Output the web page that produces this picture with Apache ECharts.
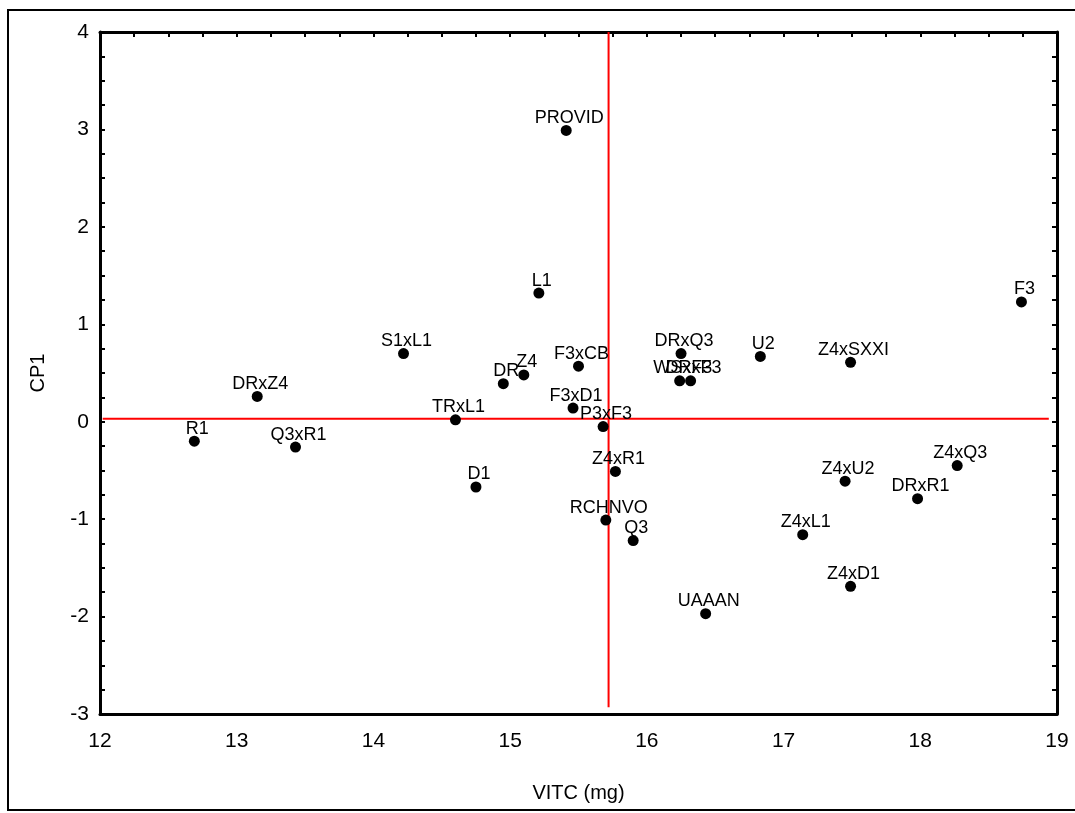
<!DOCTYPE html>
<html>
<head>
<meta charset="utf-8">
<script src="https://cdn.jsdelivr.net/npm/echarts@6/dist/echarts.min.js"></script>
<style>
html,body{margin:0;padding:0;background:#fff;}
#chart{width:1075px;height:813px;}
</style>
</head>
<body>
<div id="chart"></div>
<script>
// Data
var names = ['PROVID','L1','F3','S1xL1','DRxZ4','R1','Q3xR1','TRxL1','DR','Z4','F3xCB','F3xD1','P3xF3','DRxQ3','WSxF3','DRxF3','U2','Z4xSXXI','Z4xQ3','Z4xU2','DRxR1','Z4xL1','Z4xD1','UAAAN','Q3','RCHNVO','Z4xR1','D1'];
var vitc  = [15.41,15.21,18.74,14.22,13.15,12.69,13.43,14.60,14.95,15.10,15.50,15.46,15.68,16.25,16.24,16.32,16.83,17.49,18.27,17.45,17.98,17.14,17.49,16.43,15.90,15.70,15.77,14.75];
var cp1   = [2.99,1.32,1.23,0.70,0.26,-0.20,-0.26,0.02,0.39,0.48,0.57,0.14,-0.05,0.70,0.42,0.42,0.67,0.61,-0.45,-0.61,-0.79,-1.16,-1.69,-1.97,-1.22,-1.01,-0.51,-0.67];
var refVertical   = [[15.72,-2.93],[15.72,4]];
var refHorizontal = [[12.02,0.03],[18.94,0.03]];
var xTicks = [12,13,14,15,16,17,18,19];
var yTicks = [-3,-2,-1,0,1,2,3,4];

var FONT = 'Liberation Sans, Arial, sans-serif';
var points = names.map(function(n,i){ return {name:n, value:[vitc[i], cp1[i]]}; });

var lineAxis = {onZero:false, lineStyle:{color:'#000', width:3}};
var tickStyle = {color:'#000', width:2};
var chart = echarts.init(document.getElementById('chart'));
chart.setOption({
  animation:false,
  backgroundColor:'#fff',
  grid:{left:100, right:18, top:32, bottom:99},
  graphic:[{type:'rect', shape:{x:8,y:10,width:1085,height:800}, style:{fill:'none', stroke:'#000', lineWidth:2}, silent:true}],
  xAxis:[
    {type:'value', position:'bottom', min:xTicks[0], max:xTicks[xTicks.length-1], interval:1,
     axisLine:lineAxis, axisTick:{show:false}, minorTick:{show:false}, splitLine:{show:false},
     axisLabel:{fontSize:21, color:'#000', margin:17, fontFamily:FONT},
     name:'VITC (mg)', nameLocation:'middle', nameGap:69, nameTextStyle:{fontSize:20, color:'#000', fontFamily:FONT}},
    {type:'value', position:'top', min:xTicks[0], max:xTicks[xTicks.length-1], interval:1,
     axisLine:lineAxis, axisTick:{show:true, inside:true, length:5, lineStyle:tickStyle},
     minorTick:{show:true, splitNumber:4, length:5, lineStyle:tickStyle},
     splitLine:{show:false}, minorSplitLine:{show:false}, axisLabel:{show:false}}
  ],
  yAxis:[
    {type:'value', position:'left', min:yTicks[0], max:yTicks[yTicks.length-1], interval:1,
     axisLine:lineAxis, axisTick:{show:true, inside:true, length:5, lineStyle:tickStyle},
     minorTick:{show:true, splitNumber:4, length:5, lineStyle:tickStyle},
     splitLine:{show:false},
     axisLabel:{fontSize:21, color:'#000', margin:11, fontFamily:FONT},
     name:'CP1', nameLocation:'middle', nameGap:52, nameTextStyle:{fontSize:20, color:'#000', fontFamily:FONT}},
    {type:'value', position:'right', min:yTicks[0], max:yTicks[yTicks.length-1], interval:1,
     axisLine:lineAxis, axisTick:{show:true, inside:true, length:5, lineStyle:tickStyle},
     minorTick:{show:true, splitNumber:4, length:5, lineStyle:tickStyle},
     splitLine:{show:false}, axisLabel:{show:false}}
  ],
  series:[
    {type:'line', data:refVertical, showSymbol:false, symbol:'none', lineStyle:{color:'#ff0000', width:2}, z:1, silent:true},
    {type:'line', data:refHorizontal, showSymbol:false, symbol:'none', lineStyle:{color:'#ff0000', width:2}, z:1, silent:true},
    {type:'scatter', data:points, symbol:'circle', symbolSize:11, itemStyle:{color:'#000', opacity:1}, z:3,
     label:{show:true, position:'top', distance:1, offset:[3,3], formatter:'{b}', color:'#000', fontSize:18, fontFamily:FONT}}
  ]
});
</script>
</body>
</html>
